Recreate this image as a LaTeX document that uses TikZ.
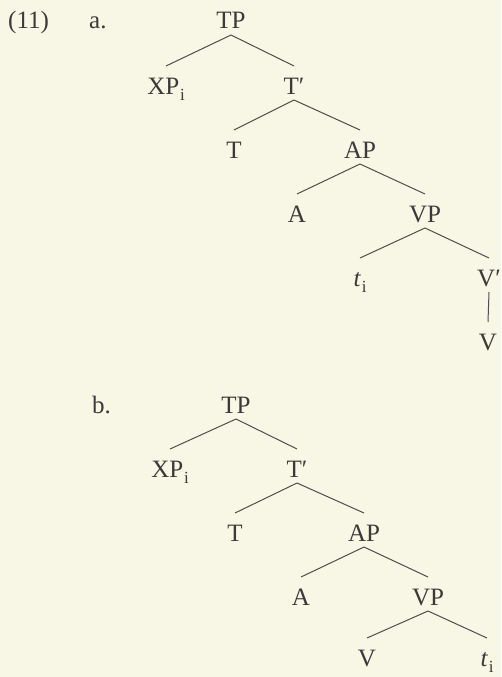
\documentclass[tikz,border=0pt]{standalone}
\usepackage{fontspec}
\setmainfont{Liberation Serif}
\definecolor{paper}{RGB}{248,246,228}
\definecolor{ink}{RGB}{58,58,56}
\newcommand\subi{\kern0.8pt\raisebox{-6pt}{\fontsize{17}{17}\selectfont i}}
\begin{document}
\begin{tikzpicture}[x=1pt,y=-1pt,
  lab/.style={anchor=base,inner sep=0pt,text=ink,font=\fontsize{25}{29}\selectfont},
  lft/.style={anchor=base west,inner sep=0pt,text=ink,font=\fontsize{25}{29}\selectfont},
  br/.style={draw=ink!90,line width=1pt}]
\fill[paper] (0,0) rectangle (501,677);
\useasboundingbox (0,0) rectangle (501,677);
% labels
\node[lft] (ex) at (8,29) {(11)};
\node[lft] (la) at (89,29) {a.};
\node[lft] (lb) at (92,413) {b.};
% tree a
\node[lab] (TPa) at (231,29) {TP};
\node[lab] (XPa) at (166,94) {XP\subi};
\node[lab] (Tba) at (294,94) {T′};
\node[lab] (Ta) at (234,158) {T};
\node[lab] (APa) at (360,158) {AP};
\node[lab] (Aa) at (297,222) {A};
\node[lab] (VPa) at (425,222) {VP};
\node[lab] (ta) at (360,286) {\textit{t}\subi};
\node[lab] (Vba) at (489,286) {V′};
\node[lab] (Va) at (488,350) {V};
% tree b
\node[lab] (TPb) at (236,413) {TP};
\node[lab] (XPb) at (170,477) {XP\subi};
\node[lab] (Tbb) at (297,477) {T′};
\node[lab] (Tb) at (235,541) {T};
\node[lab] (APb) at (364,541) {AP};
\node[lab] (Ab) at (301,605) {A};
\node[lab] (VPb) at (428,605) {VP};
\node[lab] (Vb) at (367,666) {V};
\node[lab] (tb) at (487,666) {\textit{t}\subi};
% branches
\foreach \p/\c in {TPa/XPa,TPa/Tba,Tba/Ta,Tba/APa,APa/Aa,APa/VPa,VPa/ta,VPa/Vba,Vba/Va,
                   TPb/XPb,TPb/Tbb,Tbb/Tb,Tbb/APb,APb/Ab,APb/VPb,VPb/Vb,VPb/tb}
  \draw[br] ([yshift=-6pt]\p.base) -- ([yshift=28pt]\c.base);
\end{tikzpicture}
\end{document}
